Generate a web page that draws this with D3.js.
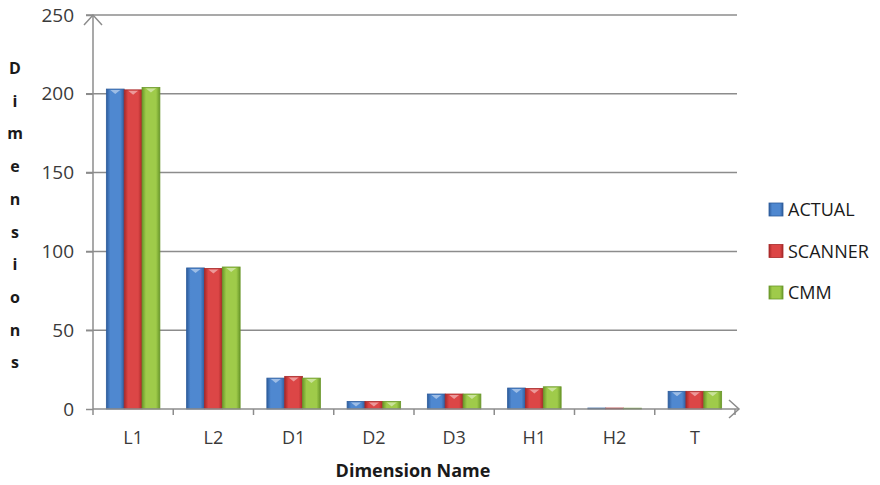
<!DOCTYPE html>
<html lang="en">
<head>
    <meta charset="UTF-8">
    <title>Dimensions by name</title>
    <style>
        body { margin: 0; background: #fff; }
        text { font-family: "Open Sans", "Liberation Sans", sans-serif; }
    </style>
</head>
<body>
<script type='text/javascript' src='https://d3js.org/d3.v7.min.js'></script>
<script>
    // categories and series
    var categories = ["L1", "L2", "D1", "D2", "D3", "H1", "H2", "T"];
    var seriesNames = ["ACTUAL", "SCANNER", "CMM"];
    var actual = [203, 89.5, 19.6, 4.8, 9.5, 13.3, 0.6, 11.2];
    var scanner = [202.5, 89.2, 20.7, 4.8, 9.5, 13.0, 0.6, 11.2];
    var cmm = [204, 90.1, 19.6, 4.8, 9.5, 14.1, 0.5, 11.2];
    var yTicks = [0, 50, 100, 150, 200, 250];
    var colors = {ACTUAL: ["#2d5c9c", "#4f88d0"], SCANNER: ["#a82828", "#dc4646"], CMM: ["#6a982a", "#9fcb4a"]};

    var values = [actual, scanner, cmm];
    var data = [];
    categories.forEach(function (c, i) {
        seriesNames.forEach(function (s, j) {
            data.push({cat: c, series: s, value: values[j][i]});
        });
    });

    const margin = {top: 15, right: 145, bottom: 76, left: 93};
    const width = 880 - margin.left - margin.right;
    const height = 485 - margin.top - margin.bottom;

    var root = d3.select('body').append("svg")
        .attr("width", 880)
        .attr("height", 485);

    // gradients for the bevelled bars
    var defs = root.append("defs");
    seriesNames.forEach(function (s) {
        var g = defs.append("linearGradient")
            .attr("id", "grad-" + s)
            .attr("x1", "0").attr("x2", "1").attr("y1", "0").attr("y2", "0");
        g.append("stop").attr("offset", "0%").attr("stop-color", colors[s][0]);
        g.append("stop").attr("offset", "22%").attr("stop-color", colors[s][1]);
        g.append("stop").attr("offset", "78%").attr("stop-color", colors[s][1]);
        g.append("stop").attr("offset", "100%").attr("stop-color", colors[s][0]);
    });

    var svg = root.append("g")
        .attr("transform", "translate(" + margin.left + "," + margin.top + ")");

    var x = d3.scaleBand()
        .domain(categories)
        .range([0, width])
        .paddingInner(0.333)
        .paddingOuter(0.1665);
    var x1 = d3.scaleBand()
        .domain(seriesNames)
        .range([0, x.bandwidth()]);
    var y = d3.scaleLinear()
        .domain([0, 250])
        .range([height, 0]);

    // gridlines
    svg.append("g")
        .selectAll("line")
        .data(yTicks.filter(d => d > 0))
        .enter().append("line")
        .attr("x1", -7)
        .attr("x2", width + 2)
        .attr("y1", d => y(d))
        .attr("y2", d => y(d))
        .attr("stroke", "#8c8c8c")
        .attr("stroke-width", 1.5);

    // y axis
    var yAxis = svg.append("g")
        .call(d3.axisLeft(y).tickValues(yTicks).tickSize(7).tickPadding(12));
    yAxis.select(".domain").remove();
    yAxis.selectAll("line").attr("stroke", "#8c8c8c").attr("stroke-width", 1.5);
    yAxis.selectAll("text")
        .attr("font-size", "19px")
        .attr("fill", "#3a3a3a")
        .style("font-family", "'Open Sans', sans-serif");

    // bars
    var bars = svg.selectAll(".bar")
        .data(data)
        .enter().append("g")
        .attr("class", "bar")
        .attr("transform", d => "translate(" + (x(d.cat) + x1(d.series)) + ",0)");
    bars.append("rect")
        .attr("x", 0)
        .attr("y", d => y(d.value))
        .attr("width", x1.bandwidth())
        .attr("height", d => height - y(d.value))
        .attr("fill", d => "url(#grad-" + d.series + ")")
        .attr("stroke", d => colors[d.series][0])
        .attr("stroke-width", 0.8);
    bars.filter(d => height - y(d.value) > 4)
        .append("path")
        .attr("d", function (d) {
            var w = x1.bandwidth();
            var t = y(d.value);
            return "M" + (w * 0.22) + "," + (t + 1) + "L" + (w * 0.78) + "," + (t + 1) + "L" + (w * 0.5) + "," + (t + 5) + "Z";
        })
        .attr("fill", "#fff")
        .attr("opacity", 0.45);

    // x axis with ticks between categories
    var xAxisG = svg.append("g").attr("transform", "translate(0," + height + ")");
    xAxisG.append("line")
        .attr("x1", 0).attr("x2", width + 4)
        .attr("y1", 0).attr("y2", 0)
        .attr("stroke", "#8c8c8c").attr("stroke-width", 1.5);
    xAxisG.selectAll(".xt")
        .data(d3.range(categories.length + 1))
        .enter().append("line")
        .attr("x1", i => i * x.step())
        .attr("x2", i => i * x.step())
        .attr("y1", 0).attr("y2", 6)
        .attr("stroke", "#8c8c8c").attr("stroke-width", 1.5);
    xAxisG.append("path")
        .attr("d", "M" + (width - 6) + ",-9L" + (width + 4) + ",0L" + (width - 6) + ",9")
        .attr("fill", "none").attr("stroke", "#8c8c8c").attr("stroke-width", 1.5);
    xAxisG.selectAll(".xl")
        .data(categories)
        .enter().append("text")
        .attr("x", d => x(d) + x.bandwidth() / 2)
        .attr("y", 35)
        .attr("text-anchor", "middle")
        .attr("font-size", "18px")
        .attr("fill", "#3a3a3a")
        .text(d => d);

    // y axis line with open arrow
    svg.append("line")
        .attr("x1", 0).attr("x2", 0)
        .attr("y1", height).attr("y2", 0)
        .attr("stroke", "#8c8c8c").attr("stroke-width", 1.5);
    svg.append("path")
        .attr("d", "M-9,10L0,0L9,10")
        .attr("fill", "none").attr("stroke", "#8c8c8c").attr("stroke-width", 1.5);

    // axis titles
    root.append("text")
        .attr("x", 413)
        .attr("y", 477)
        .attr("text-anchor", "middle")
        .attr("font-size", "18px")
        .attr("font-weight", "bold")
        .attr("fill", "#1a1a1a")
        .text("Dimension Name");
    var letters = "Dimensions".split("");
    root.append("g").selectAll("text")
        .data(letters)
        .enter().append("text")
        .attr("x", 15)
        .attr("y", (d, i) => 74 + i * 32.7)
        .attr("text-anchor", "middle")
        .attr("font-size", "16px")
        .attr("font-weight", "bold")
        .attr("fill", "#1a1a1a")
        .text(d => d);

    // legend
    var legend = root.append("g").attr("transform", "translate(769,203)");
    var items = legend.selectAll("g")
        .data(seriesNames)
        .enter().append("g")
        .attr("transform", (d, i) => "translate(0," + (i * 41.5) + ")");
    items.append("rect")
        .attr("width", 14).attr("height", 13)
        .attr("fill", d => "url(#grad-" + d + ")")
        .attr("stroke", d => colors[d][0]).attr("stroke-width", 0.8);
    items.append("text")
        .attr("x", 19)
        .attr("y", 13)
        .attr("font-size", "18px")
        .attr("fill", "#1a1a1a")
        .text(d => d);
</script>
</body>
</html>
